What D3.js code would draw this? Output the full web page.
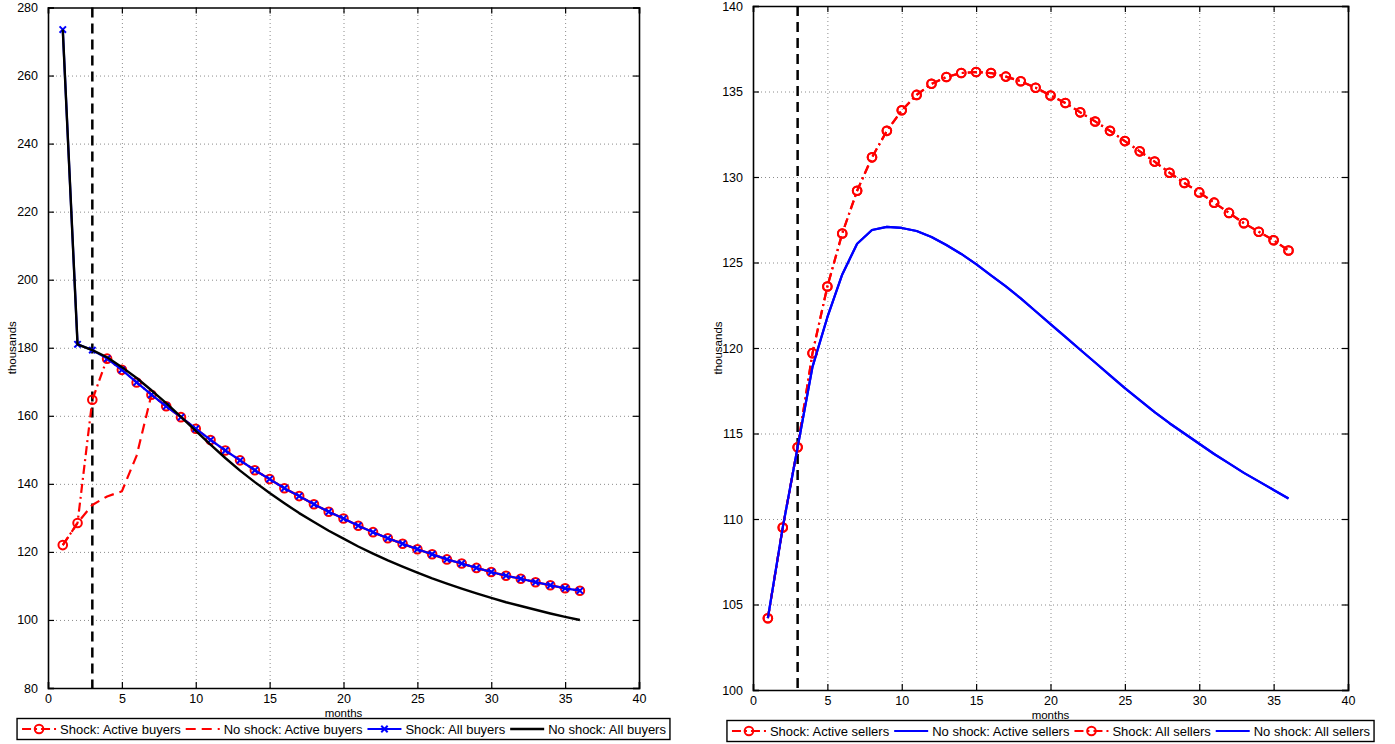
<!DOCTYPE html>
<html><head><meta charset="utf-8">
<script src="https://cdn.jsdelivr.net/npm/d3@7"></script>
<style>
body{margin:0;background:#fff}
svg{display:block}
text{font-family:"Liberation Sans",Arial,Helvetica,sans-serif;fill:#000}
</style>
</head><body>
<svg id="c" width="1395" height="744"></svg>
<script>
// ---------- DATA ----------
const months = [1,2,3,4,5,6,7,8,9,10,11,12,13,14,15,16,17,18,19,20,21,22,23,24,25,26,27,28,29,30,31,32,33,34,35,36];
const xTicks = [0,5,10,15,20,25,30,35,40];
const buyersYTicks = [80,100,120,140,160,180,200,220,240,260,280];
const sellersYTicks = [100,105,110,115,120,125,130,135,140];
const shockMonth = 3;

const buyersShockActive = [122.0,128.5,164.7,176.8,173.5,169.8,166.2,162.8,159.6,156.2,152.9,149.8,146.9,144.0,141.4,138.7,136.4,134.0,131.8,129.8,127.7,125.8,124.0,122.4,120.8,119.3,117.8,116.6,115.3,114.1,113.0,112.1,111.1,110.2,109.3,108.6];
const buyersNoShockActive = [122.0,128.5,133.8,136.3,137.8,148.3,166.2,162.8,159.6,156.2,152.9,149.8,146.9,144.0,141.4,138.7,136.4,134.0,131.8,129.8,127.7,125.8,124.0,122.4,120.8,119.3,117.8,116.6,115.3,114.1,113.0,112.1,111.1,110.2,109.3,108.6];
const buyersShockAll = [273.5,181.0,179.3,176.8,173.5,169.8,166.2,162.8,159.6,156.2,152.9,149.8,146.9,144.0,141.4,138.7,136.4,134.0,131.8,129.8,127.7,125.8,124.0,122.4,120.8,119.3,117.8,116.6,115.3,114.1,113.0,112.1,111.1,110.2,109.3,108.6];
const buyersNoShockAll = [273.5,181.0,179.3,177.2,174.3,171.1,167.5,163.7,159.7,155.6,151.5,147.6,143.9,140.5,137.3,134.3,131.4,128.8,126.2,123.9,121.6,119.5,117.5,115.7,113.9,112.2,110.7,109.2,107.8,106.5,105.2,104.1,103.0,101.9,100.9,100.0];

const sellersShockActive = [104.2,109.5,114.2,119.7,123.6,126.7,129.2,131.15,132.7,133.9,134.8,135.45,135.85,136.08,136.14,136.08,135.87,135.6,135.22,134.77,134.33,133.78,133.25,132.7,132.1,131.5,130.9,130.25,129.65,129.1,128.5,127.9,127.3,126.8,126.3,125.7];
const sellersNoShockActive = [104.2,109.5,114.2,118.9,121.8,124.3,126.1,126.9,127.08,127.02,126.84,126.49,126.02,125.5,124.9,124.25,123.6,122.9,122.15,121.4,120.65,119.9,119.15,118.4,117.65,116.95,116.25,115.6,115.0,114.4,113.8,113.25,112.7,112.2,111.7,111.2];
const sellersShockAll = [104.2,109.5,114.2,119.7,123.6,126.7,129.2,131.15,132.7,133.9,134.8,135.45,135.85,136.08,136.14,136.08,135.87,135.6,135.22,134.77,134.33,133.78,133.25,132.7,132.1,131.5,130.9,130.25,129.65,129.1,128.5,127.9,127.3,126.8,126.3,125.7];
const sellersNoShockAll = [104.2,109.5,114.2,118.9,121.8,124.3,126.1,126.9,127.08,127.02,126.84,126.49,126.02,125.5,124.9,124.25,123.6,122.9,122.15,121.4,120.65,119.9,119.15,118.4,117.65,116.95,116.25,115.6,115.0,114.4,113.8,113.25,112.7,112.2,111.7,111.2];

const buyersLabels = ["Shock: Active buyers","No shock: Active buyers","Shock: All buyers","No shock: All buyers"];
const sellersLabels = ["Shock: Active sellers","No shock: Active sellers","Shock: All sellers","No shock: All sellers"];

// ---------- STYLES ----------
const RED = "#ff0000", BLUE = "#0000ff", BLACK = "#000000";
const styleDashDotO = {color:RED, dash:"9,4,2,4", width:2.2, marker:"o"};
const styleDashed = {color:RED, dash:"10,6", width:2.2, marker:null};
const styleBlueX = {color:BLUE, dash:null, width:2.2, marker:"x"};
const styleBlack = {color:BLACK, dash:null, width:2.4, marker:null};
const styleBlue = {color:BLUE, dash:null, width:2.2, marker:null};

const svg = d3.select("#c");

function drawMarker(g, type, color, x, y){
  if(type==="o"){
    g.append("circle").attr("cx",x).attr("cy",y).attr("r",4.3)
      .attr("fill","none").attr("stroke",color).attr("stroke-width",2);
  } else if(type==="x"){
    const s=3.2;
    g.append("path").attr("d",`M${x-s},${y-s}L${x+s},${y+s}M${x-s},${y+s}L${x+s},${y-s}`)
      .attr("stroke",color).attr("stroke-width",2).attr("fill","none");
  }
}

function drawPanel(cfg){
  const {L,T,R,B} = cfg;
  const x = d3.scaleLinear().domain([0,40]).range([L,R]);
  const y = d3.scaleLinear().domain(cfg.yDomain).range([B,T]);
  const g = svg.append("g");

  // grid via axes
  const gx = g.append("g").attr("transform",`translate(0,${B})`)
    .call(d3.axisBottom(x).tickValues(cfg.xTicks).tickSize(-(B-T)).tickFormat(""));
  const gy = g.append("g").attr("transform",`translate(${L},0)`)
    .call(d3.axisLeft(y).tickValues(cfg.yTicks).tickSize(-(R-L)).tickFormat(""));
  [gx,gy].forEach(a=>{
    a.select(".domain").remove();
    a.selectAll(".tick line").attr("stroke","#8c8c8c").attr("stroke-width",1).attr("stroke-dasharray","1,3");
  });
  gx.selectAll(".tick").filter(d=>d===0||d===40).remove();
  gy.selectAll(".tick").filter(d=>d===cfg.yDomain[0]||d===cfg.yDomain[1]).remove();

  // vertical shock line
  g.append("line").attr("x1",x(cfg.shock)).attr("x2",x(cfg.shock)).attr("y1",T).attr("y2",B)
    .attr("stroke","#000").attr("stroke-width",2.5).attr("stroke-dasharray","10,6");

  // series
  cfg.series.forEach(s=>{
    const line = d3.line().x((d,i)=>x(cfg.months[i])).y(d=>y(d));
    g.append("path").datum(s.values).attr("d",line).attr("fill","none")
      .attr("stroke",s.style.color).attr("stroke-width",s.style.width)
      .attr("stroke-dasharray",s.style.dash).attr("stroke-linejoin","round");
    if(s.style.marker){
      const mg = g.append("g");
      s.values.forEach((v,i)=>drawMarker(mg,s.style.marker,s.style.color,x(cfg.months[i]),y(v)));
    }
  });

  // axes box with inward ticks
  const tl = 6;
  const ax = g.append("g");
  ax.append("g").attr("transform",`translate(0,${B})`).call(d3.axisBottom(x).tickValues(cfg.xTicks).tickSize(-tl).tickPadding(cfg.xPad).tickFormat(d3.format("d")));
  ax.append("g").attr("transform",`translate(0,${T})`).call(d3.axisTop(x).tickValues(cfg.xTicks).tickSize(-tl).tickFormat(""));
  ax.append("g").attr("transform",`translate(${L},0)`).call(d3.axisLeft(y).tickValues(cfg.yTicks).tickSize(-tl).tickPadding(10).tickFormat(d3.format("d")));
  ax.append("g").attr("transform",`translate(${R},0)`).call(d3.axisRight(y).tickValues(cfg.yTicks).tickSize(-tl).tickFormat(""));
  ax.selectAll(".domain").attr("stroke","#000").attr("stroke-width",1.6);
  ax.selectAll(".tick line").attr("stroke","#000").attr("stroke-width",1.2);
  ax.selectAll(".tick text").attr("font-size","12.5px").attr("font-family","'Liberation Sans',Arial,sans-serif").attr("fill","#000");

  // labels
  g.append("text").attr("x",(L+R)/2).attr("y",cfg.monthsY).attr("text-anchor","middle")
    .attr("font-size","11.5px").text("months");
  g.append("text").attr("transform",`translate(${cfg.ylabelX},${(T+B)/2}) rotate(-90)`)
    .attr("text-anchor","middle").attr("font-size","11.5px").text("thousands");

  // legend
  const lg = g.append("g");
  const ly = cfg.legendY;
  let cx = 0;
  cfg.series.forEach((s,i)=>{
    const it = lg.append("g");
    cx += 5;
    const x0 = cx;
    it.append("line").attr("x1",x0).attr("x2",x0+34).attr("y1",ly).attr("y2",ly)
      .attr("stroke",s.style.color).attr("stroke-width",s.style.width)
      .attr("stroke-dasharray",s.style.dash);
    if(s.style.marker) drawMarker(it,s.style.marker,s.style.color,x0+17,ly);
    const t = it.append("text").attr("x",x0+38).attr("y",ly+4.5).attr("font-size","13px").text(cfg.labels[i]);
    const w = t.node().getComputedTextLength();
    cx = x0+38+w;
  });
  const totalW = cx + 4;
  const shift = (L+R)/2 - totalW/2;
  lg.attr("transform",`translate(${shift},0)`);
  lg.insert("rect",":first-child").attr("x",0).attr("y",ly-10.5).attr("width",totalW).attr("height",21)
    .attr("fill","#fff").attr("stroke","#000").attr("stroke-width",1.4);
}

drawPanel({
  L:48, T:7.5, R:639, B:688, yDomain:[80,280], yTicks:buyersYTicks, xTicks:xTicks, months:months,
  shock:shockMonth, ylabelX:16, legendY:729, labels:buyersLabels, xPad:6, monthsY:717,
  series:[
    {values:buyersShockActive, style:styleDashDotO},
    {values:buyersNoShockActive, style:styleDashed},
    {values:buyersShockAll, style:styleBlueX},
    {values:buyersNoShockAll, style:styleBlack}
  ]
});
drawPanel({
  L:753, T:6, R:1348, B:690, yDomain:[100,140], yTicks:sellersYTicks, xTicks:xTicks, months:months,
  shock:shockMonth, ylabelX:722, legendY:731, labels:sellersLabels, xPad:6, monthsY:719,
  series:[
    {values:sellersShockActive, style:styleDashDotO},
    {values:sellersNoShockActive, style:styleBlue},
    {values:sellersShockAll, style:styleDashDotO},
    {values:sellersNoShockAll, style:styleBlue}
  ]
});
</script>
</body></html>
